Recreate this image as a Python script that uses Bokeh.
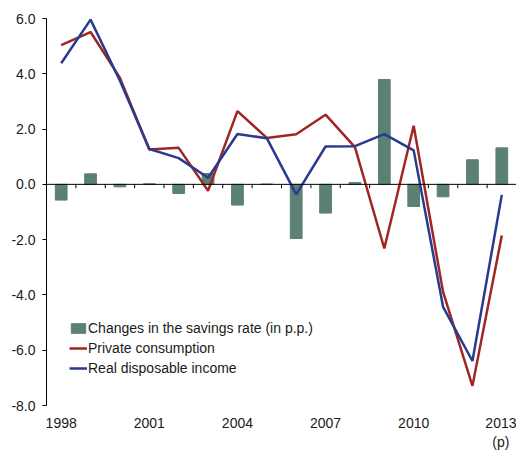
from bokeh.plotting import figure
from bokeh.models import Range1d, FixedTicker, Legend, LegendItem, Span
from bokeh.embed import file_html
from bokeh.resources import INLINE

years = ["1998", "1999", "2000", "2001", "2002", "2003", "2004", "2005",
         "2006", "2007", "2008", "2009", "2010", "2011", "2012", "2013"]
savings_change = [-0.57, 0.38, -0.09, 0.02, -0.33, 0.39, -0.75, 0.01,
                  -1.96, -1.04, 0.07, 3.79, -0.80, -0.45, 0.89, 1.32]
private_consumption = [5.04, 5.51, 3.85, 1.26, 1.32, -0.23, 2.65, 1.68,
                       1.81, 2.52, 1.35, -2.32, 2.12, -3.89, -7.29, -1.85]
disposable_income = [4.38, 5.96, 3.75, 1.28, 0.95, 0.24, 1.82, 1.67,
                     -0.36, 1.37, 1.38, 1.82, 1.23, -4.43, -6.39, -0.38]
y_ticks = [-8, -6, -4, -2, 0, 2, 4, 6]
label_every = 3
last_label_suffix = "\n(p)"

FONT = "Liberation Sans"
FS = "14px"
TXT = "#1a1a1a"
BAR = "#5a8172"
RED = "#9e2623"
BLUE = "#283b8f"

xs = list(range(len(years)))

p = figure(width=516, height=452, output_backend="svg", toolbar_location=None,
           x_range=Range1d(-0.5, len(years) - 0.5), y_range=Range1d(y_ticks[0], y_ticks[-1]),
           min_border_left=46, min_border_right=0, min_border_top=18, min_border_bottom=40)
p.outline_line_color = None
p.xgrid.visible = False
p.ygrid.visible = False
p.background_fill_color = "white"

bars = p.vbar(x=xs, top=savings_change, width=0.4, fill_color=BAR, line_color=BAR)

# zero line and category boundary ticks
p.add_layout(Span(location=0, dimension="width", line_color="#000000", line_width=1))
bounds = [i - 0.5 for i in range(len(years) + 1)]
p.segment(x0=bounds, y0=[0] * len(bounds), x1=bounds, y1=[-0.14] * len(bounds),
          line_color="#000000", line_width=1)

l1 = p.line(xs, private_consumption, line_color=RED, line_width=2.5)
l2 = p.line(xs, disposable_income, line_color=BLUE, line_width=2.5)

# axes
ya = p.yaxis[0]
ya.ticker = FixedTicker(ticks=y_ticks)
ya.major_label_overrides = {t: f"{t:.1f}" for t in y_ticks}
ya.major_tick_in = 0
ya.major_tick_out = 4
ya.minor_tick_line_color = None
ya.axis_line_color = "#000000"
ya.major_tick_line_color = "#000000"
ya.major_label_text_font = FONT
ya.major_label_text_font_size = FS
ya.major_label_text_color = TXT
ya.major_label_standoff = 7

xa = p.xaxis[0]
shown = [i for i in xs if i % label_every == 0]
xa.ticker = FixedTicker(ticks=shown)
overrides = {i: years[i] for i in shown}
overrides[shown[-1]] = years[shown[-1]] + last_label_suffix
xa.major_label_overrides = overrides
xa.axis_line_color = None
xa.major_tick_line_color = None
xa.major_tick_in = 0
xa.major_tick_out = 0
xa.minor_tick_line_color = None
xa.minor_tick_out = 0
xa.minor_tick_in = 0
xa.major_label_text_font = FONT
xa.major_label_text_font_size = FS
xa.major_label_text_color = TXT
xa.major_label_standoff = 9

legend = Legend(items=[
    LegendItem(label="Changes in the savings rate (in p.p.)", renderers=[bars]),
    LegendItem(label="Private consumption", renderers=[l1]),
    LegendItem(label="Real disposable income", renderers=[l2]),
], location=(23, 29))
legend.background_fill_alpha = 0
legend.border_line_color = None
legend.padding = 0
legend.margin = 0
legend.spacing = 4
legend.glyph_width = 18
legend.glyph_height = 12
legend.label_height = 14
legend.label_standoff = 1
legend.label_text_font = FONT
legend.label_text_font_size = FS
legend.label_text_color = TXT
p.add_layout(legend)

open("out.html", "w").write(file_html(p, INLINE))
